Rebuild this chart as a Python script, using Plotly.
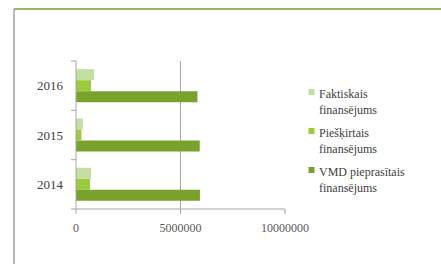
import plotly.graph_objects as go

years = ["2014", "2015", "2016"]
vmd = [5930000, 5920000, 5810000]
pieskirtais = [670000, 260000, 720000]
faktiskais = [720000, 330000, 870000]
x_ticks = [0, 5000000, 10000000]
x_tick_labels = ["0", "5000000", "10000000"]
series_names = ["VMD pieprasītais<br>finansējums", "Piešķirtais<br>finansējums", "Faktiskais<br>finansējums"]
series_colors = ["#79a22d", "#9bcb3b", "#c4dfa2"]

fig = go.Figure()
for vals, name, col in zip([vmd, pieskirtais, faktiskais], series_names, series_colors):
    fig.add_bar(y=years, x=vals, orientation="h", name=name, showlegend=False,
                marker=dict(color=col, line=dict(width=0)))

W, H = 441, 264
L, R, T, B = 76, 285, 61, 209

def px(xp):
    return (xp - L) / (R - L)

def py(yp):
    return (B - yp) / (B - T)

SERIF = "Liberation Serif, Times New Roman, serif"

# legend drawn as squares + text (top item = last series)
legend_rows_y = [170, 131, 92]
annotations = []
legend_shapes = []
for name, col, yc in zip(series_names, series_colors, legend_rows_y):
    legend_shapes.append(dict(type="rect", xref="paper", yref="paper",
                              x0=px(308.5), x1=px(314.5), y0=py(yc + 3), y1=py(yc - 3),
                              fillcolor=col, line=dict(width=0)))
    annotations.append(dict(xref="paper", yref="paper", x=px(317), y=py(yc - 7.5),
                            xanchor="left", yanchor="top", align="left", showarrow=False,
                            text=name, font=dict(family=SERIF, size=12, color="#404040")))

fig.update_layout(
    width=W, height=H,
    margin=dict(l=L, r=W - R, t=T, b=H - B, autoexpand=False),
    paper_bgcolor="white", plot_bgcolor="white",
    barmode="group", bargap=0.33, bargroupgap=0,
    font=dict(family=SERIF, size=12, color="#404040"),
    showlegend=False,
    annotations=annotations,
    xaxis=dict(range=[0, 10000000], tickvals=x_ticks, ticktext=x_tick_labels,
               showgrid=True, gridcolor="#a6a6a6", gridwidth=1,
               showline=False, zeroline=False, ticks="", ticklabelstandoff=10,
               tickfont=dict(family=SERIF, size=12, color="#595959"), fixedrange=True),
    yaxis=dict(showgrid=False, showline=False, zeroline=False, ticks="",
               tickfont=dict(family=SERIF, size=13, color="#404040"), ticklabelstandoff=12),
    shapes=[
        dict(type="line", xref="paper", yref="paper", x0=px(14), x1=px(441), y0=py(9), y1=py(9),
             line=dict(color="#779a3a", width=1.5)),
        dict(type="line", xref="paper", yref="paper", x0=px(14), x1=px(14), y0=py(9), y1=py(264),
             line=dict(color="#a0a0a0", width=1.5)),
        dict(type="line", xref="paper", yref="paper", x0=0, x1=0, y0=0, y1=1,
             line=dict(color="#a6a6a6", width=1)),
        dict(type="line", xref="paper", yref="paper", x0=px(71), x1=1, y0=0, y1=0,
             line=dict(color="#a6a6a6", width=1)),
    ] + [
        dict(type="line", xref="paper", yref="paper", x0=px(71), x1=0, y0=k / 3, y1=k / 3,
             line=dict(color="#a6a6a6", width=1)) for k in range(1, 4)
    ] + [
        dict(type="line", xref="paper", yref="paper", x0=px(xx), x1=px(xx), y0=0, y1=py(214),
             line=dict(color="#a6a6a6", width=1)) for xx in (76, 180.5, 285)
    ] + legend_shapes,
)

fig.write_html("out.html", config={"displayModeBar": False},
               post_script="document.body.style.margin='0';document.body.style.overflow='hidden';")
